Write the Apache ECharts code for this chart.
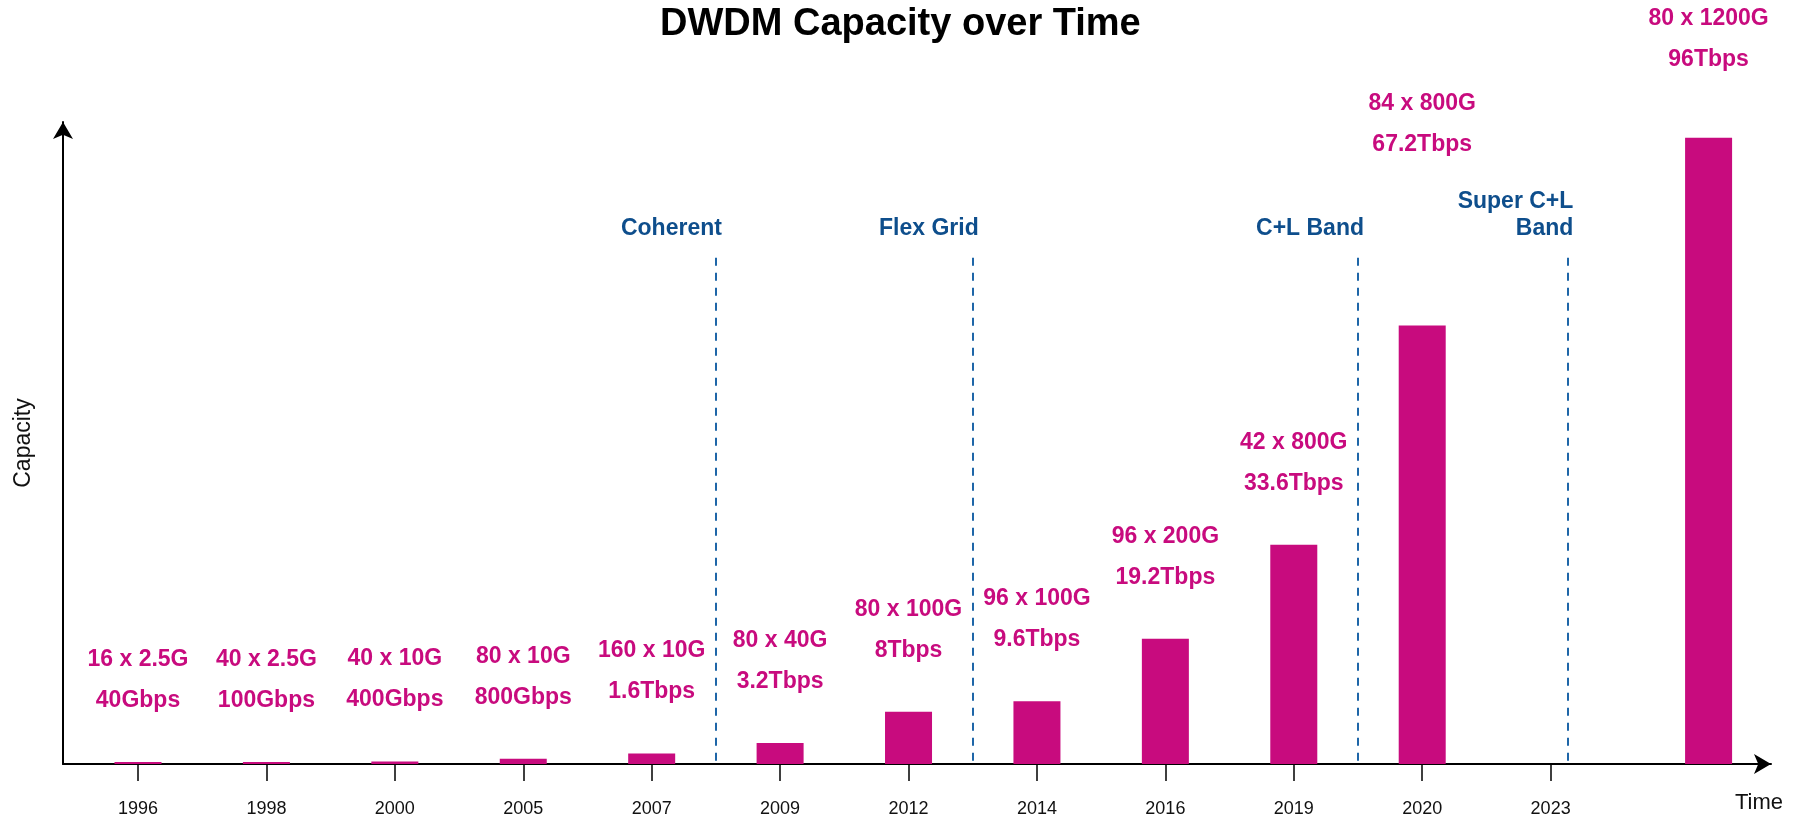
<!DOCTYPE html>
<html>
<head>
<meta charset="utf-8">
<title>DWDM Capacity over Time</title>
<script src="https://cdn.jsdelivr.net/npm/echarts@6/dist/echarts.min.js"></script>
<style>
  html, body { margin: 0; padding: 0; background: #ffffff; }
  #chart { width: 1813px; height: 825px; }
</style>
</head>
<body>
<div id="chart"></div>
<script>
// Year ticks along the time axis (one slot per year)
const years = ['1996', '1998', '2000', '2005', '2007', '2009', '2012', '2014', '2016', '2019', '2020', '2023'];

// Slot on the time axis for each bar; the last system sits beyond the 2023 tick
const barSlots = [0, 1, 2, 3, 4, 5, 6, 7, 8, 9, 10, 12.23];

// Total fibre capacity per system, Tbps
const capacityTbps = [0.04, 0.1, 0.4, 0.8, 1.6, 3.2, 8, 9.6, 19.2, 33.6, 67.2, 96];

// Channel plan and capacity text shown above each bar
const channelPlans = ['16 x 2.5G', '40 x 2.5G', '40 x 10G', '80 x 10G', '160 x 10G', '80 x 40G',
  '80 x 100G', '96 x 100G', '96 x 200G', '42 x 800G', '84 x 800G', '80 x 1200G'];
const capacityText = ['40Gbps', '100Gbps', '400Gbps', '800Gbps', '1.6Tbps', '3.2Tbps',
  '8Tbps', '9.6Tbps', '19.2Tbps', '33.6Tbps', '67.2Tbps', '96Tbps'];

// Technology milestones marked with dashed dividers
const milestones = ['Coherent', 'Flex Grid', 'C+L Band', 'Super C+L\nBand'];
const milestoneSlots = [4.5, 6.5, 9.5, 11.13];

const MAGENTA = '#C80B7E';
const BLUE_TEXT = '#0E4E8C';
const BLUE_LINE = '#1E66A8';
const FONT = '"Liberation Sans", Arial, Helvetica, sans-serif';

const Y_MAX = 98.4;
const DIVIDER_TOP = 77.6;

const chart = echarts.init(document.getElementById('chart'), null, { renderer: 'canvas' });

// Lift the two newest labels above the milestone captions so they stay clear of them
function labelDistance(i) {
  if (i === capacityTbps.length - 1) return 58;
  if (i === capacityTbps.length - 2) return 160;
  return 41;
}

const barData = capacityTbps.map((v, i) => ({
  value: [barSlots[i], v],
  label: { distance: labelDistance(i) }
}));

const dividerLines = milestones.map((name, i) => [
  { coord: [milestoneSlots[i], DIVIDER_TOP], name: name },
  { coord: [milestoneSlots[i], 0] }
]);

const option = {
  backgroundColor: '#ffffff',
  animation: false,
  title: {
    text: 'DWDM Capacity over Time',
    left: 655,
    top: 1,
    textStyle: { fontFamily: FONT, fontSize: 38, fontWeight: 'bold', color: '#000000' }
  },
  grid: { left: 63, top: 122, right: 42, bottom: 61, containLabel: false },
  xAxis: {
    type: 'value',
    min: -0.584,
    max: 12.716,
    name: 'Time',
    nameLocation: 'end',
    nameGap: -12,
    nameTextStyle: {
      fontFamily: FONT, fontSize: 22, color: '#111111',
      align: 'center', verticalAlign: 'top', padding: [28, 0, 0, 0]
    },
    splitLine: { show: false },
    axisLine: {
      show: true,
      onZero: false,
      symbol: ['none', 'arrow'],
      symbolSize: [15, 17],
      lineStyle: { color: '#000000', width: 2 }
    },
    axisTick: {
      show: true,
      length: 17,
      customValues: years.map((_, i) => i),
      lineStyle: { color: '#000000', width: 1.5 }
    },
    axisLabel: {
      show: true,
      margin: 36,
      customValues: years.map((_, i) => i),
      formatter: v => years[Math.round(v)] || '',
      fontFamily: FONT, fontSize: 18, color: '#111111'
    }
  },
  yAxis: {
    type: 'value',
    min: 0,
    max: Y_MAX,
    name: 'Capacity',
    nameLocation: 'middle',
    nameRotate: 90,
    nameGap: 28,
    nameTextStyle: { fontFamily: FONT, fontSize: 23, color: '#111111' },
    splitLine: { show: false },
    axisTick: { show: false },
    axisLabel: { show: false },
    axisLine: {
      show: true,
      onZero: false,
      symbol: ['none', 'arrow'],
      symbolSize: [15, 17],
      lineStyle: { color: '#000000', width: 2 }
    }
  },
  series: [{
    type: 'bar',
    data: barData,
    barWidth: 47,
    barMinHeight: 2,
    itemStyle: { color: MAGENTA },
    label: {
      show: true,
      position: 'top',
      formatter: p => channelPlans[p.dataIndex] + '\n' + capacityText[p.dataIndex],
      fontFamily: FONT,
      fontSize: 23,
      fontWeight: 'bold',
      color: MAGENTA,
      lineHeight: 41
    },
    markLine: {
      silent: true,
      symbol: ['none', 'none'],
      lineStyle: { color: BLUE_LINE, width: 2, type: [8, 7] },
      label: {
        show: true,
        position: 'start',
        formatter: p => p.name,
        align: 'right',
        distance: 16,
        offset: [6, 0],
        fontFamily: FONT,
        fontSize: 23,
        fontWeight: 'bold',
        color: BLUE_TEXT,
        lineHeight: 27
      },
      data: dividerLines
    }
  }]
};

chart.setOption(option);
</script>
</body>
</html>
